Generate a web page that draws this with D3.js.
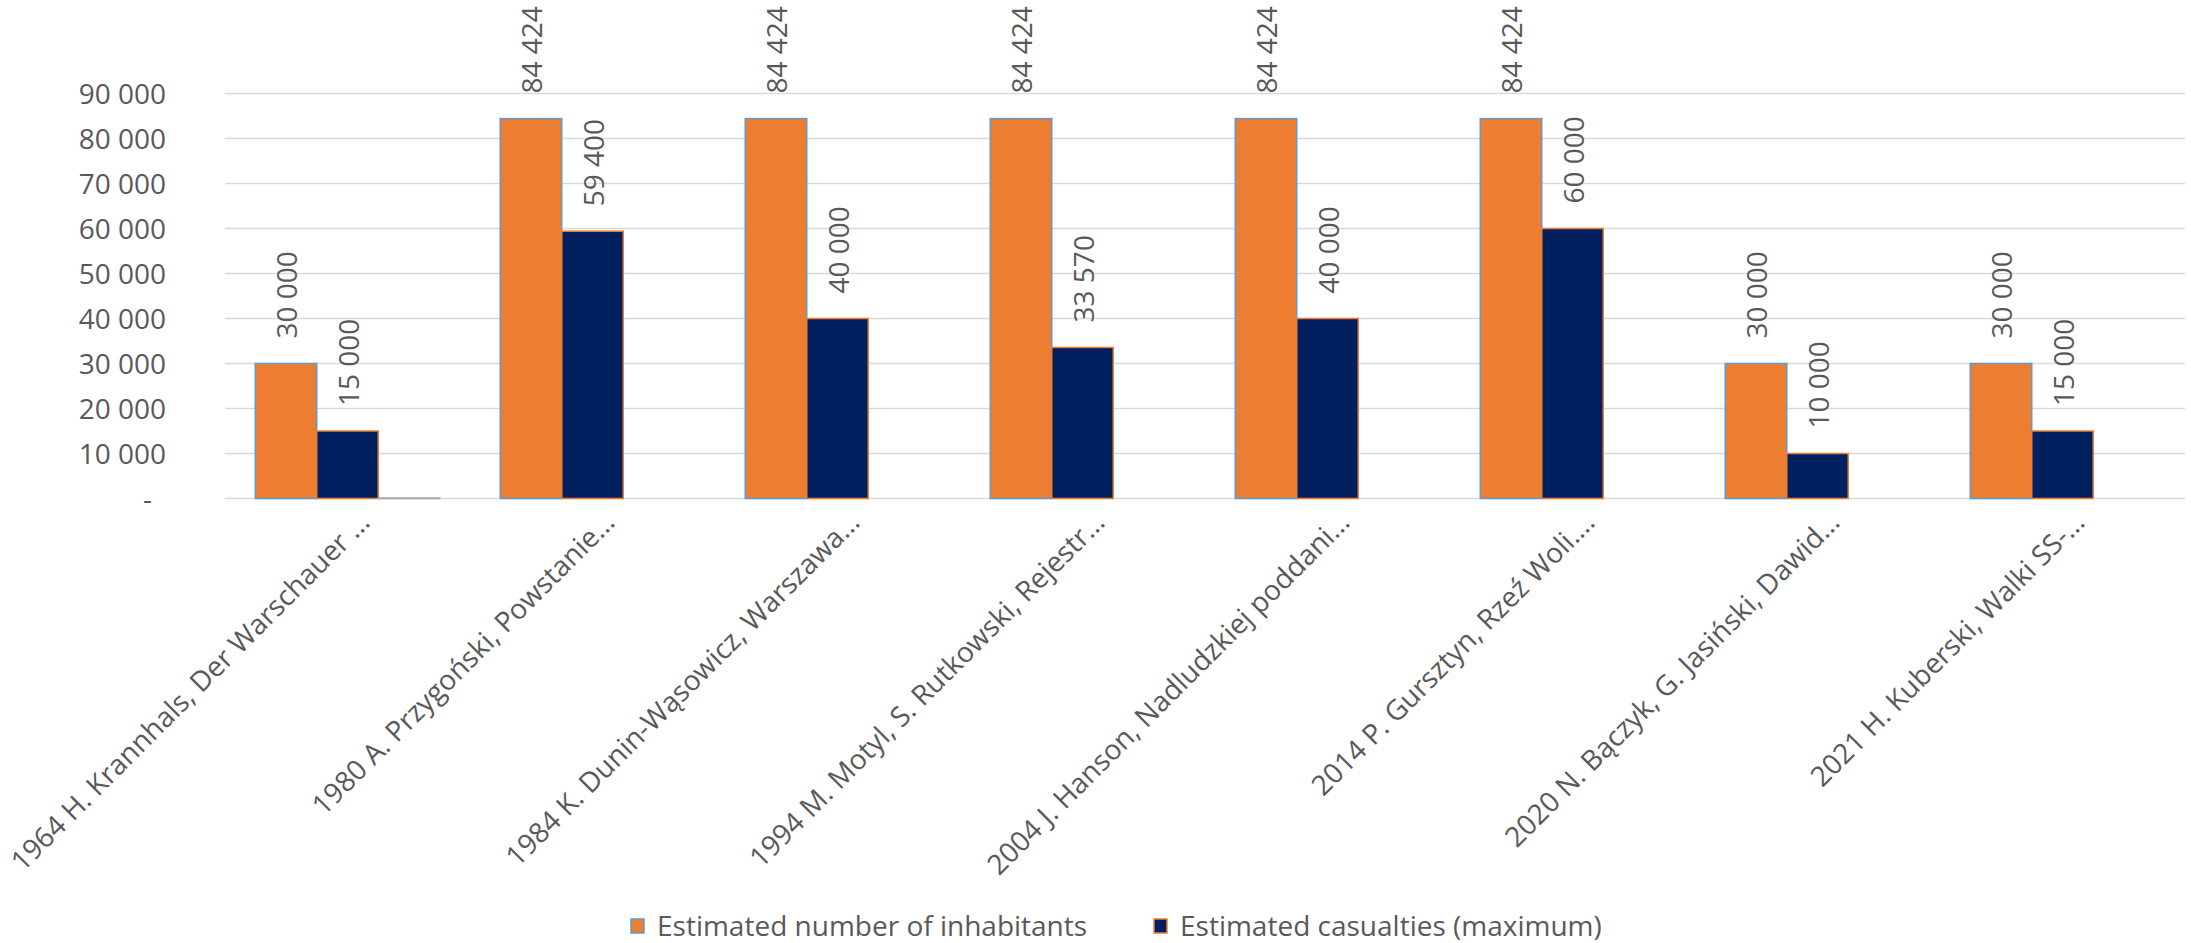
<!DOCTYPE html>
<html>
<head>
<meta charset="utf-8">
<script src="https://cdn.jsdelivr.net/npm/d3@7"></script>
<style>
  html, body { margin: 0; padding: 0; background: #ffffff; }
  svg { display: block; }
  text { font-family: "Open Sans", sans-serif; fill: #595959; }
</style>
</head>
<body>
<svg id="chart" width="2191" height="943"></svg>
<script>
// ---- data ----
const categories = [
  "1964 H. Krannhals, Der Warschauer \u2026",
  "1980 A. Przygoński, Powstanie\u2026",
  "1984 K. Dunin-Wąsowicz, Warszawa\u2026",
  "1994 M. Motyl, S. Rutkowski, Rejestr\u2026",
  "2004 J. Hanson, Nadludzkiej poddani\u2026",
  "2014 P. Gursztyn, Rzeź Woli.\u2026",
  "2020 N. Bączyk, G. Jasiński, Dawid\u2026",
  "2021 H. Kuberski, Walki SS-\u2026"
];
const inhabitants = [30000, 84424, 84424, 84424, 84424, 84424, 30000, 30000];
const casualties  = [15000, 59400, 40000, 33570, 40000, 60000, 10000, 15000];
const thirdSeries = [100, null, null, null, null, null, null, null];
const seriesNames = ["Estimated number of inhabitants", "Estimated casualties (maximum)", "Series 3"];
const yTicks = [0, 10000, 20000, 30000, 40000, 50000, 60000, 70000, 80000, 90000];

// ---- layout ----
const svg = d3.select("#chart");
const plotLeft = 225, plotRight = 2185, plotTop = 93.5, plotBottom = 498.5;
const fillCols = ["#ED7D31", "#002060", "#A5A5A5"];
const strokeCols = ["#5B9BD5", "#ED7D31", "#A5A5A5"];
const fontSize = 28;

const x0 = d3.scaleBand().domain(categories).range([plotLeft, plotRight]).padding(0);
const x1 = d3.scaleBand().domain([0, 1, 2]).range([0, x0.bandwidth()]).paddingInner(0).paddingOuter(0.492);
const y = d3.scaleLinear().domain([0, 90000]).range([plotBottom, plotTop]);

const fmt = v => v === 0 ? "-" : d3.format(",")(v).replace(/,/g, " ");

// gridlines
svg.append("g").selectAll("line").data(yTicks).join("line")
  .attr("x1", plotLeft).attr("x2", plotRight)
  .attr("y1", d => y(d)).attr("y2", d => y(d))
  .attr("stroke", "#D9D9D9").attr("stroke-width", 1.5);

// y axis labels
const yAxis = d3.axisLeft(y).tickValues(yTicks).tickFormat(fmt).tickSize(0).tickPadding(0);
const yg = svg.append("g").attr("transform", `translate(166,0)`).call(yAxis);
yg.select(".domain").remove();
yg.selectAll("text")
  .attr("font-family", "Open Sans, sans-serif")
  .attr("font-size", fontSize)
  .attr("fill", "#595959")
  .attr("x", d => d === 0 ? -14 : 0)
  .attr("dy", "0.35em");

// bars
const allSeries = [inhabitants, casualties, thirdSeries];
const groups = svg.append("g").selectAll("g").data(categories).join("g")
  .attr("transform", d => `translate(${x0(d)},0)`);

groups.selectAll("rect")
  .data((d, i) => allSeries.map((s, k) => ({k, v: s[i]})).filter(e => e.v !== null))
  .join("rect")
  .attr("x", e => x1(e.k))
  .attr("width", x1.bandwidth())
  .attr("y", e => y(e.v))
  .attr("height", e => plotBottom - y(e.v))
  .attr("fill", e => fillCols[e.k])
  .attr("stroke", e => strokeCols[e.k])
  .attr("stroke-width", 1.5);

// data labels (series 0 and 1)
groups.selectAll("text.val")
  .data((d, i) => [0, 1].map(k => ({k, v: allSeries[k][i]})))
  .join("text")
  .attr("class", "val")
  .attr("font-size", fontSize)
  .attr("text-anchor", "start")
  .attr("transform", e => `translate(${x1(e.k) + x1.bandwidth() / 2 + 11},${y(e.v) - 25}) rotate(-90)`)
  .text(e => fmt(e.v));

// x axis labels
svg.append("g").selectAll("text").data(categories).join("text")
  .attr("font-size", fontSize)
  .attr("text-anchor", "end")
  .attr("transform", d => `translate(${x0(d) + x0.bandwidth() / 2 + 24},524) rotate(-45)`)
  .text(d => d);

// legend
const legendItems = [
  {k: 0, x: 631},
  {k: 1, x: 1154}
];
const lg = svg.append("g").selectAll("g").data(legendItems).join("g")
  .attr("transform", d => `translate(${d.x},926)`);
lg.append("rect")
  .attr("x", 0).attr("y", -7).attr("width", 13).attr("height", 14)
  .attr("fill", d => fillCols[d.k]).attr("stroke", d => strokeCols[d.k]).attr("stroke-width", 1.5);
lg.append("text")
  .attr("x", 26).attr("dy", "0.35em")
  .attr("font-size", fontSize)
  .text(d => seriesNames[d.k]);
</script>
</body>
</html>
